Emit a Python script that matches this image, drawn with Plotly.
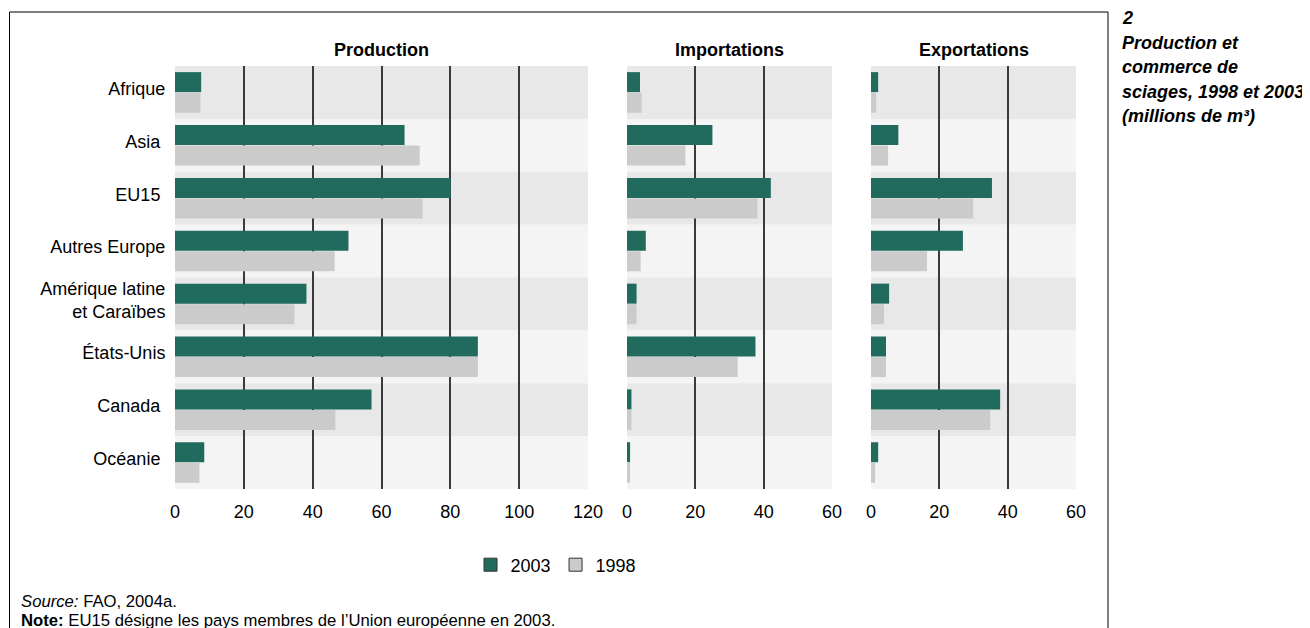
import plotly.graph_objects as go

W, H = 1310, 628
OFF = 8  # page body margin

categories = ["Afrique", "Asia", "EU15", "Autres Europe", "Amérique latine<br>et Caraïbes",
              "États-Unis", "Canada", "Océanie"]
category_labels = ["Afrique", "Asia\u00a0", "EU15\u00a0", "Autres Europe", "Amérique latine<br>et Caraïbes",
                   "États-Unis", "Canada\u00a0", "Océanie\u00a0"]

prod_2003 = [7.6, 66.7, 80.1, 50.4, 38.2, 88.0, 57.1, 8.5]
prod_1998 = [7.4, 71.1, 71.9, 46.4, 34.7, 88.0, 46.6, 7.1]
imp_2003 = [3.8, 25.0, 42.1, 5.5, 2.8, 37.6, 1.3, 0.9]
imp_1998 = [4.3, 17.1, 38.2, 4.0, 2.8, 32.4, 1.3, 0.9]
exp_2003 = [2.1, 8.0, 35.4, 26.9, 5.3, 4.4, 37.8, 2.1]
exp_1998 = [1.5, 5.0, 29.9, 16.4, 3.8, 4.4, 34.9, 1.2]

panel_titles = ["Production", "Importations", "Exportations"]
panel_max = [120, 60, 60]
panel_ticks = [[0, 20, 40, 60, 80, 100, 120], [0, 20, 40, 60], [0, 20, 40, 60]]
series_names = ["2003", "1998"]
title_lines = ["2", "Production et", "commerce de", "sciages, 1998 et 2003", "(millions de m³)"]

C2003 = "#216a5e"
C1998 = "#cbcbcb"
FONT = "Liberation Sans, Arial, sans-serif"

def px_x(p):
    return (p - OFF) / W

def px_y(p):
    return 1 - (p - OFF) / H

x_domains = [[px_x(175), px_x(588)], [px_x(627), px_x(832)], [px_x(871), px_x(1076)]]
y_domain = [px_y(489), px_y(66)]

fig = go.Figure()

data = [(prod_2003, prod_1998), (imp_2003, imp_1998), (exp_2003, exp_1998)]
for i, (v03, v98) in enumerate(data):
    xa = "x" if i == 0 else f"x{i+1}"
    ya = "y" if i == 0 else f"y{i+1}"
    fig.add_trace(go.Bar(y=categories, x=v03, orientation="h", marker=dict(color=C2003, line=dict(width=0)),
                         name="2003", showlegend=False, xaxis=xa, yaxis=ya))
    fig.add_trace(go.Bar(y=categories, x=v98, orientation="h", marker=dict(color=C1998, line=dict(width=0)),
                         name="1998", showlegend=False, xaxis=xa, yaxis=ya))

# legend entries
for name, col in zip(series_names, [C2003, C1998]):
    fig.add_trace(go.Scatter(x=[None], y=[None], mode="markers", name=name,
                             marker=dict(symbol="square", size=13, color=col,
                                         line=dict(color="#333333", width=1)),
                             xaxis="x", yaxis="y"))

shapes = []
for i in range(3):
    xr = "x" if i == 0 else f"x{i+1}"
    yr = "y" if i == 0 else f"y{i+1}"
    for k in range(len(categories)):
        shapes.append(dict(type="rect", xref=xr, yref=yr, x0=0, x1=panel_max[i],
                           y0=k - 0.5, y1=k + 0.5, fillcolor="#e8e8e8" if k % 2 == 0 else "#f4f4f4",
                           line=dict(width=0), layer="below"))

# frame
shapes.append(dict(type="rect", xref="paper", yref="paper", x0=px_x(9.5), x1=px_x(1108),
                   y0=-0.1, y1=px_y(12), line=dict(color="black", width=1), fillcolor="rgba(0,0,0,0)",
                   layer="above"))

layout = dict(
    width=W, height=H,
    margin=dict(l=0, r=0, t=0, b=0),
    paper_bgcolor="white", plot_bgcolor="white",
    barmode="group", bargap=0.22, bargroupgap=0.03,
    font=dict(family=FONT, size=18, color="black"),
    shapes=shapes,
    showlegend=True,
    legend=dict(orientation="h", x=px_x(556), y=px_y(565), xanchor="center", yanchor="middle",
                font=dict(size=18), itemwidth=30, bgcolor="rgba(0,0,0,0)"),
)

for i in range(3):
    key = "xaxis" if i == 0 else f"xaxis{i+1}"
    ykey = "yaxis" if i == 0 else f"yaxis{i+1}"
    ya = "y" if i == 0 else f"y{i+1}"
    grid_vals = [t for t in panel_ticks[i] if 0 < t < panel_max[i]]
    layout[key] = dict(domain=x_domains[i], anchor=ya, range=[0, panel_max[i]],
                       tickvals=panel_ticks[i], showgrid=False, zeroline=False, showline=False,
                       ticks="outside", ticklen=6, tickcolor="rgba(0,0,0,0)",
                       tickfont=dict(size=18), automargin=False, fixedrange=True,
                       minor=dict(tickvals=grid_vals, showgrid=True, gridcolor="#3a3a3a", gridwidth=1.5))
    layout[ykey] = dict(domain=y_domain, anchor="x" if i == 0 else f"x{i+1}",
                        categoryorder="array", categoryarray=categories,
                        tickvals=categories, ticktext=category_labels,
                        range=[len(categories) - 0.5, -0.5],
                        showgrid=False, zeroline=False, showline=False,
                        showticklabels=(i == 0), ticks="outside", ticklen=5,
                        tickcolor="rgba(0,0,0,0)", tickfont=dict(size=18), automargin=False,
                        ticklabelshift=4, fixedrange=True)
    if i > 0:
        layout[ykey]["matches"] = "y"

fig.update_layout(**layout)

annotations = []
for i, t in enumerate(panel_titles):
    annotations.append(dict(text=f"<b>{t}</b>", xref="paper", yref="paper",
                            x=(x_domains[i][0] + x_domains[i][1]) / 2, y=px_y(50),
                            xanchor="center", yanchor="middle", showarrow=False,
                            font=dict(size=18, family=FONT)))

for j, line in enumerate(title_lines):
    annotations.append(dict(text=f"<b><i>{line}</i></b>",
                            xref="paper", yref="paper", x=px_x(1120), y=px_y(18 + 24.5 * j),
                            xanchor="left", yanchor="middle",
                            align="left", showarrow=False, font=dict(size=18, family=FONT)))
annotations.append(dict(text="<i>Source:</i> FAO, 2004a.", xref="paper", yref="paper",
                        x=px_x(19), y=px_y(601), xanchor="left", yanchor="middle", showarrow=False,
                        font=dict(size=16.7, family=FONT)))
annotations.append(dict(text="<b>Note:</b> EU15 désigne les pays membres de l’Union européenne en 2003.",
                        xref="paper", yref="paper",
                        x=px_x(19), y=px_y(620), xanchor="left", yanchor="middle", showarrow=False,
                        font=dict(size=16.7, family=FONT)))

fig.update_layout(annotations=annotations)

fig.write_html("out.html")
